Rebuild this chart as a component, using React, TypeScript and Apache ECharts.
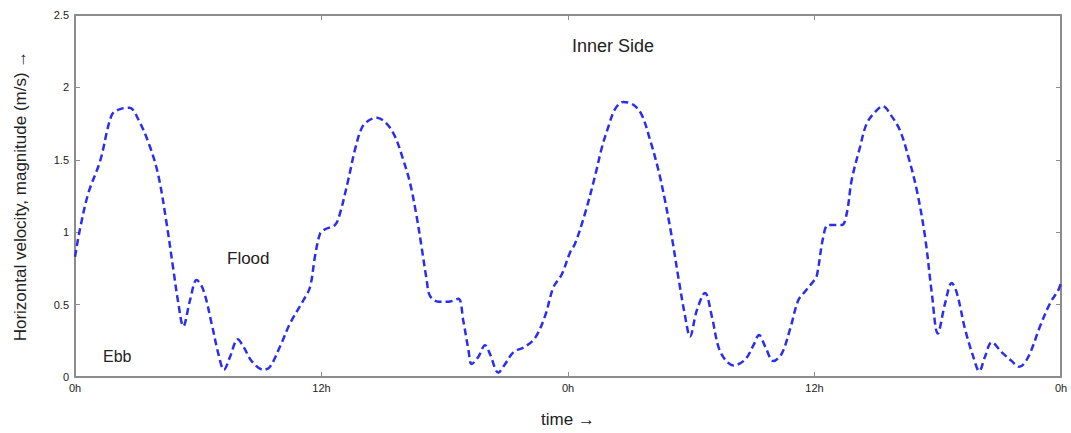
import React, { useEffect, useRef } from "react";
import * as echarts from "echarts";

const hours: number[] = [
  0, 0.24, 0.65, 1.22, 1.79, 2.19, 2.65, 3.08, 3.65, 4.06, 4.46, 4.79, 5.03, 5.27, 5.6, 5.92, 6.25, 6.65, 6.98, 7.25,
  7.55, 7.92, 8.2, 8.6, 9.17, 9.49, 9.98, 10.47, 11.12, 11.44, 11.68, 11.93, 12.17, 12.66, 12.9, 13.3, 13.63, 13.96,
  14.28, 14.69, 15.17, 15.58, 15.98, 16.31, 16.63, 16.87, 17.12, 17.28, 17.69, 18.17, 18.66, 18.9, 19.15, 19.31,
  19.64, 19.96, 20.2, 20.61, 20.94, 21.34, 21.91, 22.4, 22.88, 23.29, 23.7, 24.1, 24.34, 24.83, 25.32, 25.64, 25.97,
  26.29, 26.69, 27.18, 27.59, 27.99, 28.4, 28.72, 29.05, 29.37, 29.7, 29.94, 30.27, 30.67, 31.0, 31.32, 31.65, 32.05,
  32.62, 33.03, 33.3, 33.6, 34.0, 34.4, 34.81, 35.21, 35.54, 35.94, 36.1, 36.43, 36.67, 37.33, 37.57, 37.81, 38.22,
  38.54, 38.95, 39.32, 39.76, 40.17, 40.57, 40.98, 41.38, 41.71, 42.0, 42.36, 42.68, 42.93, 43.33, 43.73, 44.02,
  44.3, 44.63, 45.12, 45.6, 45.97, 46.41, 46.98, 47.47, 47.87, 48.0,
];

const velocity: number[] = [
  0.83, 1.02, 1.27, 1.49, 1.81, 1.85, 1.86, 1.78, 1.59, 1.39, 1.06, 0.74, 0.51, 0.35, 0.53, 0.67, 0.6, 0.37, 0.16, 0.05,
  0.14, 0.26, 0.21, 0.11, 0.05, 0.07, 0.21, 0.37, 0.53, 0.62, 0.83, 0.99, 1.02, 1.05, 1.13, 1.36, 1.57, 1.72,
  1.77, 1.79, 1.75, 1.66, 1.5, 1.34, 1.11, 0.9, 0.67, 0.56, 0.52, 0.52, 0.54, 0.39, 0.19, 0.09,
  0.14, 0.22, 0.16, 0.03, 0.09, 0.17, 0.21, 0.27, 0.42, 0.62, 0.71, 0.86, 0.92, 1.13, 1.39, 1.58, 1.73,
  1.85, 1.9, 1.88, 1.81, 1.64, 1.43, 1.22, 0.97, 0.69, 0.42, 0.28, 0.46, 0.58, 0.42, 0.21, 0.12, 0.08,
  0.12, 0.22, 0.29, 0.21, 0.11, 0.16, 0.33, 0.53, 0.59, 0.66, 0.69, 0.97, 1.05, 1.05, 1.13, 1.36, 1.59,
  1.75, 1.83, 1.87, 1.8, 1.7, 1.52, 1.29, 0.97, 0.58, 0.3, 0.51, 0.65, 0.58, 0.33, 0.14, 0.04,
  0.14, 0.24, 0.17, 0.11, 0.07, 0.14, 0.35, 0.51, 0.6, 0.65,
];

const xTickLabels: string[] = ["0h", "12h", "0h", "12h", "0h"];
const yTicks: number[] = [0, 0.5, 1, 1.5, 2, 2.5];

const titleText = "Inner Side";
const floodText = "Flood";
const ebbText = "Ebb";
const xTitle = "time \u2192";
const yTitle = "Horizontal velocity, magnitude (m/s) \u2192";

const FONT = "'Liberation Sans', Arial, sans-serif";
const AXIS_GRAY = "#8c8c8c";

export default function App() {
  const ref = useRef<HTMLDivElement | null>(null);

  useEffect(() => {
    if (!ref.current) return;
    const chart = echarts.init(ref.current, undefined, { renderer: "svg" });
    const data = hours.map((h, i) => [h, velocity[i]]);
    const axisLine = { show: true, onZero: false, lineStyle: { color: AXIS_GRAY, width: 2 } };
    const tick = { show: true, inside: true, length: 5, lineStyle: { color: AXIS_GRAY, width: 1 } };
    chart.setOption({
      animation: false,
      backgroundColor: "#ffffff",
      grid: { left: 75, right: 10, top: 15, bottom: 56, containLabel: false },
      xAxis: [
        {
          type: "value",
          min: 0,
          max: 48,
          interval: 12,
          axisLine,
          axisTick: tick,
          splitLine: { show: false },
          axisLabel: {
            margin: 5,
            fontSize: 11,
            color: "#222",
            fontFamily: FONT,
            formatter: (v: number) => xTickLabels[Math.round(v / 12)] ?? "",
          },
          name: xTitle,
          nameLocation: "middle",
          nameGap: 34,
          nameTextStyle: { fontSize: 17, color: "#222", fontFamily: FONT },
        },
        {
          type: "value",
          position: "top",
          min: 0,
          max: 48,
          interval: 12,
          axisLine,
          axisTick: tick,
          splitLine: { show: false },
          axisLabel: { show: false },
        },
      ],
      yAxis: [
        {
          type: "value",
          min: yTicks[0],
          max: yTicks[yTicks.length - 1],
          interval: 0.5,
          axisLine,
          axisTick: tick,
          splitLine: { show: false },
          axisLabel: {
            margin: 6,
            fontSize: 11,
            color: "#222",
            fontFamily: FONT,
            formatter: (v: number) => String(v),
          },
          name: yTitle,
          nameLocation: "middle",
          nameGap: 46,
          nameRotate: 90,
          nameTextStyle: { fontSize: 17, color: "#222", fontFamily: FONT },
        },
        {
          type: "value",
          position: "right",
          min: yTicks[0],
          max: yTicks[yTicks.length - 1],
          interval: 0.5,
          axisLine,
          axisTick: tick,
          splitLine: { show: false },
          axisLabel: { show: false },
        },
      ],
      series: [
        {
          type: "line",
          data,
          xAxisIndex: 0,
          yAxisIndex: 0,
          smooth: 0.35,
          showSymbol: false,
          symbol: "none",
          lineStyle: { color: "#2a2ef0", width: 2.5, type: [7, 4] },
        },
      ],
      graphic: [
        {
          type: "text",
          left: 572,
          top: 37,
          style: { text: titleText, fontSize: 18, fill: "#222", fontFamily: FONT },
        },
        {
          type: "text",
          left: 227,
          top: 250,
          style: { text: floodText, fontSize: 17, fill: "#222", fontFamily: FONT },
        },
        {
          type: "text",
          left: 103,
          top: 348,
          style: { text: ebbText, fontSize: 16, fill: "#222", fontFamily: FONT },
        },
      ],
    });
    return () => chart.dispose();
  }, []);

  return (
    <div
      ref={ref}
      style={{ position: "fixed", left: 0, top: 0, width: 1071, height: 433, background: "#fff" }}
    />
  );
}
